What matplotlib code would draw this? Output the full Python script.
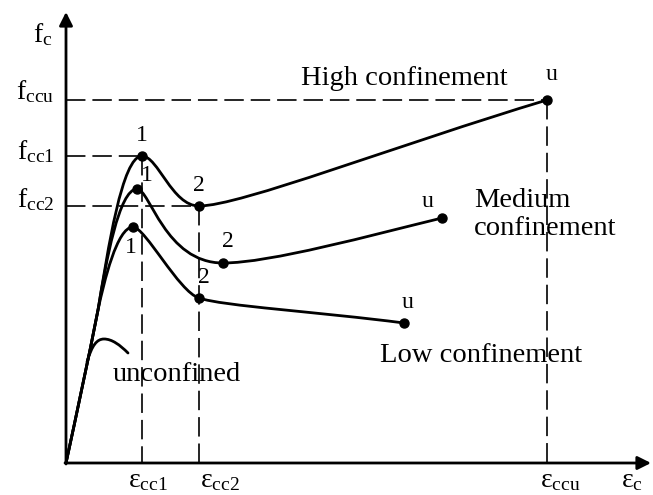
import matplotlib.pyplot as plt
from matplotlib.path import Path
from matplotlib.patches import PathPatch

plt.rcParams['font.family'] = ['Liberation Serif', 'DejaVu Serif']
plt.rcParams['mathtext.fontset'] = 'custom'
plt.rcParams['mathtext.rm'] = 'Liberation Serif'
plt.rcParams['mathtext.it'] = 'Liberation Serif:italic'
plt.rcParams['lines.scale_dashes'] = False

# schematic, in picture units (x right, y down)
origin = (66, 463)
eps_cc1, eps_cc2, eps_ccu = 142, 199, 547
f_ccu, f_cc1, f_cc2 = 100, 156, 206
x_end, y_top = 651, 12

# bezier anchors and handles, 3 points per segment after the start
rise = [(66, 463), (77, 412), (88, 361), (98, 310)]
high = [(108, 250), (122, 156), (142, 156),
        (158, 156), (172, 206), (199, 206),
        (240, 206), (397, 145), (547, 100)]
medium = [(106, 262), (119, 189), (137, 189),
          (150, 189), (165, 263), (223, 263),
          (270, 263), (372, 235), (442, 218)]
low = [(104, 282), (117, 227), (133, 227),
       (145, 227), (179, 292), (199, 298),
       (222, 306), (320, 312), (404, 323)]
unconfined = [(87, 362), (92, 345), (97, 339), (104, 339),
              (112, 339), (120, 345), (128, 353)]

points = {  # marker dots
    'high': [(142, 156), (199, 206), (547, 100)],
    'medium': [(137, 189), (223, 263), (442, 218)],
    'low': [(133, 227), (199, 298), (404, 323)],
}
point_labels = [('1', 142, 141), ('2', 199, 191), ('u', 552, 80),
                ('1', 147, 181), ('2', 228, 247), ('u', 428, 207),
                ('1', 131, 253), ('2', 204, 283), ('u', 408, 308)]


def bezier(verts):
    codes = [Path.MOVETO] + [Path.CURVE4] * (len(verts) - 1)
    return Path(verts, codes)


fig = plt.figure(figsize=(6.53, 4.95), dpi=100)
ax = fig.add_axes([0, 0, 1, 1])
ax.set_xlim(0, 653)
ax.set_ylim(495, 0)
ax.axis('off')

# dashed guides
dash = dict(color='black', lw=1.2, dashes=(14, 5))
ax.plot([origin[0], eps_ccu], [f_ccu, f_ccu], **dash)
ax.plot([origin[0], eps_cc1], [f_cc1, f_cc1], **dash)
ax.plot([origin[0], eps_cc2], [f_cc2, f_cc2], **dash)
ax.plot([eps_cc1, eps_cc1], [f_cc1, origin[1]], **dash)
ax.plot([eps_cc2, eps_cc2], [f_cc2, origin[1]], **dash)
ax.plot([eps_ccu, eps_ccu], [f_ccu, origin[1]], **dash)

# axes with arrows
arrow = dict(arrowstyle='-|>', lw=2.0, color='black', mutation_scale=20,
             shrinkA=0, shrinkB=0)
ax.annotate('', xy=(origin[0], y_top), xytext=(origin[0], origin[1] + 1),
            arrowprops=arrow)
ax.annotate('', xy=(x_end, origin[1]), xytext=(origin[0] - 1, origin[1]),
            arrowprops=arrow)

# curves
for branch in (high, medium, low):
    ax.add_patch(PathPatch(bezier(rise + branch), fc='none', ec='black',
                           lw=2.0, capstyle='round'))
ax.add_patch(PathPatch(bezier(unconfined), fc='none', ec='black', lw=2.0,
                       capstyle='round'))

for key in points:
    xs = [p[0] for p in points[key]]
    ys = [p[1] for p in points[key]]
    ax.plot(xs, ys, 'o', color='black', ms=6.5, zorder=5)

for s, x, y in point_labels:
    ax.text(x, y, s, fontsize=17, ha='center', va='baseline')

# curve names
fs = 20.5
ax.text(404, 85, 'High confinement', fontsize=fs, ha='center', va='baseline')
ax.text(474, 207, 'Medium', fontsize=fs, ha='left', va='baseline')
ax.text(474, 235, 'confinement', fontsize=fs, ha='left', va='baseline')
ax.text(481, 362, 'Low confinement', fontsize=fs, ha='center', va='baseline')
ax.text(177, 381, 'unconfined', fontsize=fs, ha='center', va='baseline')

# axis labels
fl = 20
ax.text(33, 42, r'$\mathrm{f}_{\mathrm{c}}$', fontsize=fl, ha='left', va='baseline')
ax.text(54, f_ccu - 1, r'$\mathrm{f}_{\mathrm{ccu}}$', fontsize=fl, ha='right', va='baseline')
ax.text(54, f_cc1 + 3, r'$\mathrm{f}_{\mathrm{cc1}}$', fontsize=fl, ha='right', va='baseline')
ax.text(54, f_cc2 + 1, r'$\mathrm{f}_{\mathrm{cc2}}$', fontsize=fl, ha='right', va='baseline')
ax.text(eps_cc1 + 6, 487, r'$\mathrm{ε}_{\mathrm{cc1}}$', fontsize=fl, ha='center', va='baseline')
ax.text(eps_cc2 + 21, 487, r'$\mathrm{ε}_{\mathrm{cc2}}$', fontsize=fl, ha='center', va='baseline')
ax.text(eps_ccu + 13, 487, r'$\mathrm{ε}_{\mathrm{ccu}}$', fontsize=fl, ha='center', va='baseline')
ax.text(632, 487, r'$\mathrm{ε}_{\mathrm{c}}$', fontsize=fl, ha='center', va='baseline')

fig.savefig('out.png', dpi=100)
